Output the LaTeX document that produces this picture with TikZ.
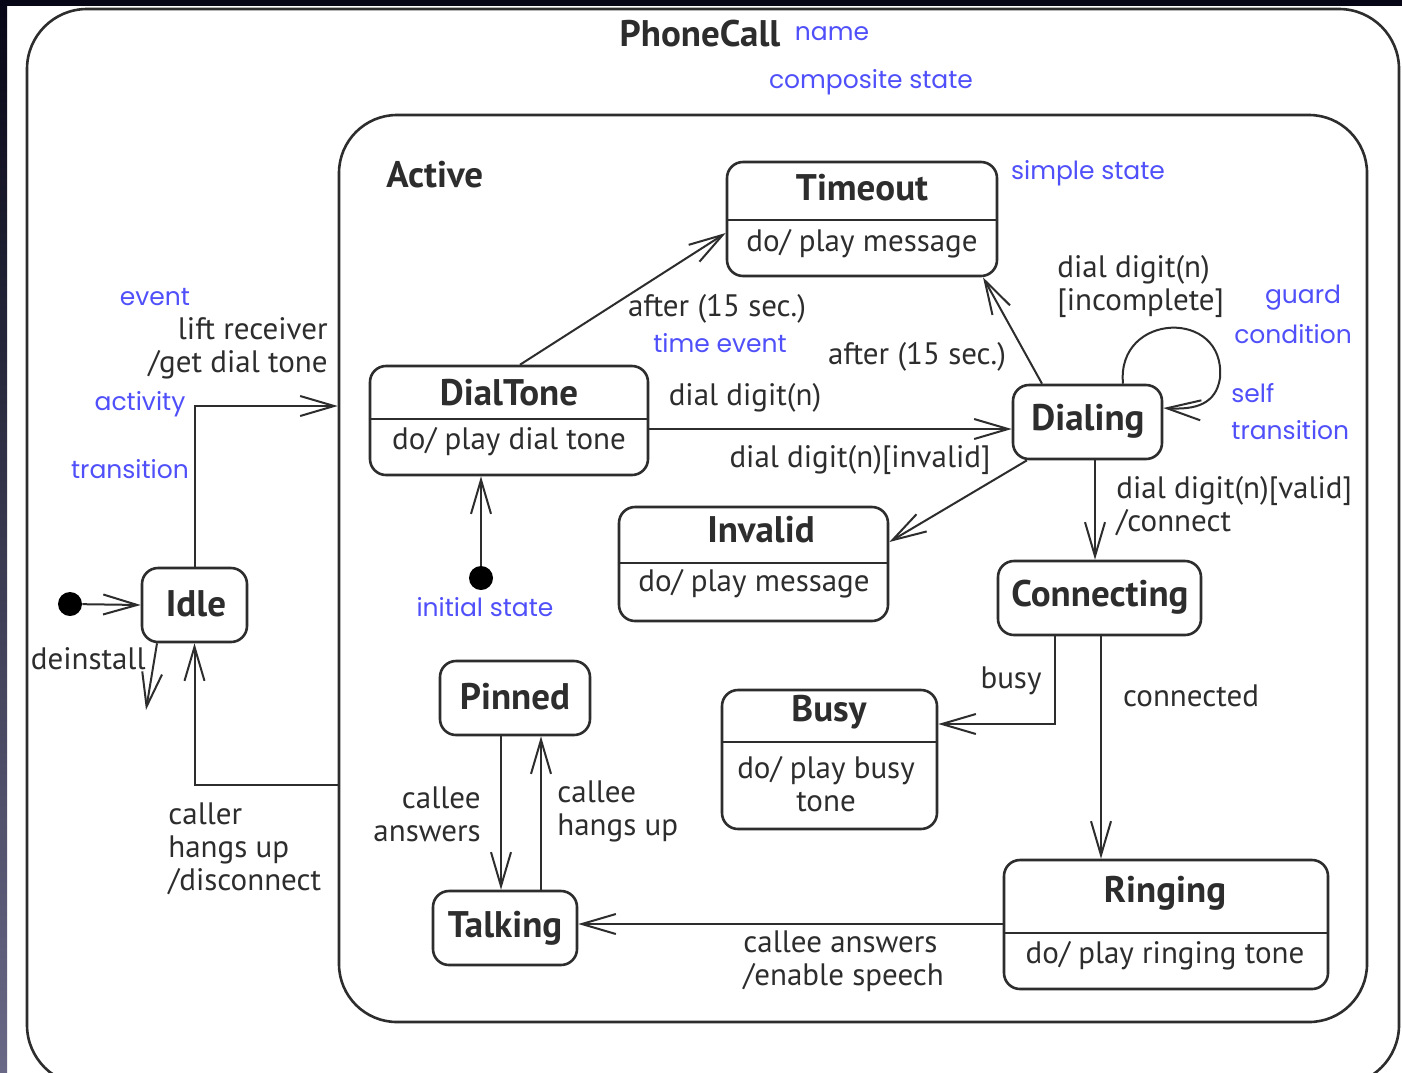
\documentclass[tikz,border=0pt]{standalone}
\usepackage{fontspec}
\setmainfont{PT Sans}
\newfontfamily\notefont{Poppins}
\usetikzlibrary{arrows.meta,fit}
\definecolor{ink}{RGB}{45,45,45}
\definecolor{notecol}{RGB}{80,80,250}
\definecolor{navytop}{RGB}{6,6,22}
\definecolor{navybot}{RGB}{105,105,135}

\begin{document}
\begin{tikzpicture}[x=0.5pt,y=-0.5pt,
  stbox/.style={draw=ink, line width=1.3pt, rounded corners=8pt, inner sep=0pt},
  compbox/.style={draw=ink, line width=1.3pt, inner sep=0pt},
  title/.style={font=\fontsize{18.5}{20}\selectfont\bfseries, text=ink, inner sep=0pt},
  lbl/.style={font=\fontsize{15.5}{16.5}\selectfont, text=ink, inner sep=0pt},
  note/.style={font=\notefont\fontsize{12.5}{17}\selectfont, text=notecol, inner sep=0pt},
  tr/.style={draw=ink, line width=1pt, -{Straight Barb[length=17pt,width=10pt,line width=1pt]}},
  divider/.style={draw=ink, line width=1.2pt},
  dot/.style={circle, fill=black, minimum size=12pt, inner sep=0pt}
]
\useasboundingbox (0,0) rectangle (1402,1072);
\clip (0,0) rectangle (1402,1072);

% page background and dark margins
\fill[white] (0,0) rectangle (1402,1072);
\shade[top color=navytop, bottom color=navybot] (0,0) rectangle (7,1072);
\fill[navytop] (0,0) rectangle (1402,6);

% composite states
\node[compbox, rounded corners=30pt, fit={(27,9)(1399,1085)}] (phonecall) {};
\node[compbox, rounded corners=29pt, fit={(339,115)(1367,1022)}] (active) {};
\node[title] (pcname) at (700,34) {PhoneCall};
\node[note] (namenote) at (832,34) {name};
\node[note] (compnote) at (871,82) {composite state};
\node[title, anchor=west] (activename) at (386,175) {Active};

% simple states
\node[stbox, fit={(142,568)(247,642)}] (idle) {};
\node[title] (idleT) at (196,604) {Idle};

\node[stbox, fit={(727,162)(997,276)}] (timeout) {};
\draw[divider] (timeout.west |- 0,220) -- (timeout.east |- 0,220);
\node[title] (timeoutT) at (862,188) {Timeout};
\node[lbl] (timeoutB) at (862,244) {do/ play message};

\node[stbox, fit={(370,366)(648,475)}] (dialtone) {};
\draw[divider] (dialtone.west |- 0,419) -- (dialtone.east |- 0,419);
\node[title] (dialtoneT) at (509,393) {DialTone};
\node[lbl] (dialtoneB) at (509,442) {do/ play dial tone};

\node[stbox, fit={(1013,385)(1162,459)}] (dialing) {};
\node[title] (dialingT) at (1088,421) {Dialing};

\node[stbox, fit={(619,507)(888,621)}] (invalid) {};
\draw[divider] (invalid.west |- 0,563) -- (invalid.east |- 0,563);
\node[title] (invalidT) at (761,530) {Invalid};
\node[lbl] (invalidB) at (754,584) {do/ play message};

\node[stbox, fit={(998,561)(1201,635)}] (connecting) {};
\node[title] (connectingT) at (1100,597) {Connecting};

\node[stbox, fit={(722,690)(937,829)}] (busy) {};
\draw[divider] (busy.west |- 0,742) -- (busy.east |- 0,742);
\node[title] (busyT) at (829,712) {Busy};
\node[lbl, align=center] (busyB) at (826,784) {do/ play busy\\tone};

\node[stbox, fit={(440,661)(590,735)}] (pinned) {};
\node[title] (pinnedT) at (515,697) {Pinned};

\node[stbox, fit={(433,891)(577,965)}] (talking) {};
\node[title] (talkingT) at (505,928) {Talking};

\node[stbox, fit={(1004,860)(1328,989)}] (ringing) {};
\draw[divider] (ringing.west |- 0,933) -- (ringing.east |- 0,933);
\node[title] (ringingT) at (1165,893) {Ringing};
\node[lbl] (ringingB) at (1165,956) {do/ play ringing tone};

% initial pseudo-states
\node[dot] (init1) at (70,604) {};
\node[dot] (init2) at (481,578) {};
\coordinate (final) at (146,710);

% transitions
\draw[tr] (init1) -- (idle.west);
\draw[tr] (idle.north) |- (active.west |- 0,406);
\draw[tr] (active.west |- 0,785) -| (idle.south);
\draw[tr] (idle.south -| 157,0) -- (final);
\draw[tr] (init2) -- (dialtone.south -| init2);
\draw[tr] (dialtone.north -| 520,0) -- (timeout.west |- 0,233);
\draw[tr] (dialing.north -| 1042,0) -- (timeout.south -| 983,0);
\draw[tr] (dialtone.east |- 0,429) -- (dialing.west |- 0,429);
\draw[tr] (dialing.south -| 1027,0) -- (invalid.east |- 0,542);
\draw[tr] (dialing.north -| 1123,0) .. controls (1116,312) and (1226,308) .. (1220,378)
          .. controls (1216,404) and (1196,410) .. (dialing.east |- 0,408);
\draw[tr] (dialing.south -| 1095,0) -- (connecting.north -| 1095,0);
\draw[tr] (connecting.south -| 1055,0) |- (busy.east |- 0,724);
\draw[tr] (connecting.south -| 1101,0) -- (ringing.north -| 1101,0);
\draw[tr] (ringing.west |- 0,924) -- (talking.east |- 0,924);
\draw[tr] (pinned.south -| 501,0) -- (talking.north -| 501,0);
\draw[tr] (talking.north -| 541,0) -- (pinned.south -| 541,0);

% transition labels
\node[lbl, align=right, anchor=east] (liftL) at (328,348) {lift receiver\\/get dial tone};
\node[lbl, anchor=east] (deinstL) at (146,659) {deinstall};
\node[lbl, align=left, anchor=west] (callerL) at (168,849) {caller\\hangs up\\/disconnect};
\node[lbl] (after1L) at (717,309) {after (15 sec.)};
\node[lbl] (after2L) at (917,357) {after (15 sec.)};
\node[lbl] (digitL) at (745,398) {dial digit(n)};
\node[lbl] (invalidL) at (860,460) {dial digit(n)[invalid]};
\node[lbl, align=left, anchor=west] (incompL) at (1057,287) {dial digit(n)\\{}[incomplete]};
\node[lbl, align=left, anchor=west] (validL) at (1116,506) {dial digit(n)[valid]\\/connect};
\node[lbl] (busyL) at (1011,681) {busy};
\node[lbl] (connectedL) at (1191,696) {connected};
\node[lbl, align=left, anchor=west] (enableL) at (743,961) {callee answers\\/enable speech};
\node[lbl, align=right, anchor=east] (answersL) at (481,814) {callee\\answers};
\node[lbl, align=left, anchor=west] (hangsL) at (557,811) {callee\\hangs up};

% explanatory notes
\node[note] (eventN) at (155,297) {event};
\node[note] (activityN) at (140,404) {activity};
\node[note] (transN) at (130,469) {transition};
\node[note] (timeN) at (720,343) {time event};
\node[note] (simpleN) at (1088,173) {simple state};
\node[note] (guardN) at (1303,298) {guard};
\node[note] (condN) at (1293,334) {condition};
\node[note, anchor=west] (selfN) at (1231,393) {self};
\node[note, anchor=west] (selftrN) at (1231,430) {transition};
\node[note] (initN) at (485,607) {initial state};
\end{tikzpicture}
\end{document}
